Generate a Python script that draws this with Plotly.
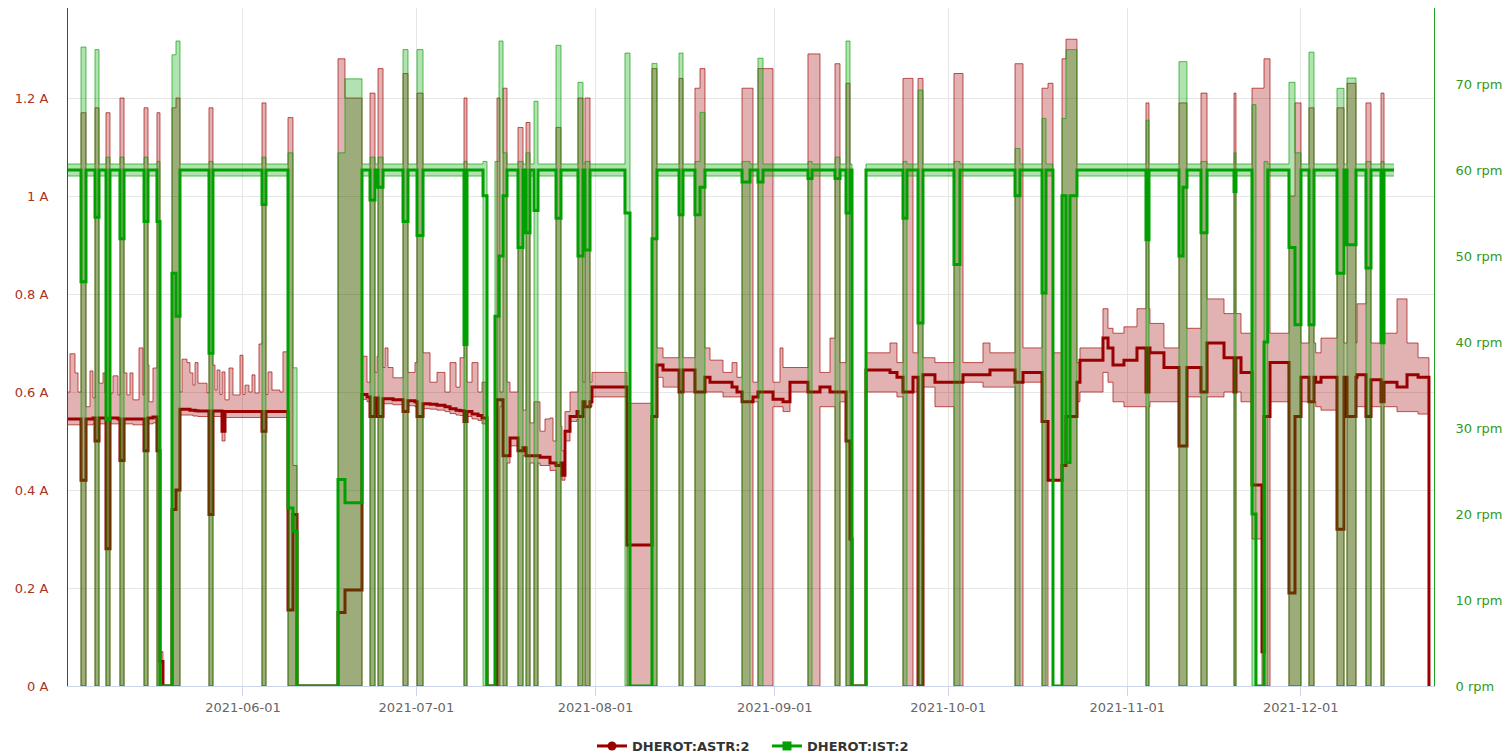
import pandas as pd
import plotly.graph_objects as go

START = pd.Timestamp("2021-05-01")  # day offsets below are days since this date

# ---------------- DHEROT:IST:2 (rpm) ----------------
ist_run_start = [0.73, 20.10, 51.59, 74.60, 102.63, 138.79, 172.70, 208.30]
ist_run_end = [16.12, 38.79, 72.53, 97.96, 136.37, 171.14, 205.57, 230.14]
ist_run_lo, ist_run_mid, ist_run_hi = 59.3, 60.0, 60.7
ist_first, ist_last = 0.73, 230.14

ist_ev_start = [2.98, 5.40, 7.30, 9.72, 13.88, 16.12, 18.72, 19.41, 25.12, 34.29,
                38.79, 39.65, 47.44, 48.65, 52.98, 54.36, 58.69, 61.11, 69.24, 72.53,
                74.60, 75.30, 75.99, 78.58, 79.97, 81.35, 85.16, 88.96, 90.17, 97.09,
                101.76, 106.44, 109.20, 110.07, 117.34, 120.10, 128.75, 133.43, 135.33, 145.19,
                147.79, 154.01, 164.57, 169.24, 172.70, 173.39, 174.08, 187.23, 192.94, 193.63,
                196.75, 202.46, 205.57, 207.65, 211.97, 213.01, 215.43, 220.28, 222.01, 225.29,
                227.89]
ist_ev_end = [3.84, 6.09, 7.99, 10.42, 14.57, 16.64, 19.41, 20.10, 25.81, 34.98,
              39.65, 40.35, 48.65, 51.59, 53.84, 55.23, 59.55, 62.15, 69.76, 73.22,
              75.30, 75.99, 76.68, 79.45, 80.66, 82.04, 86.02, 89.83, 91.04, 97.96,
              102.63, 107.13, 110.07, 110.93, 118.72, 120.97, 129.45, 134.29, 136.02, 145.88,
              148.65, 155.05, 165.43, 169.93, 173.39, 174.08, 175.29, 187.75, 193.63, 194.32,
              197.79, 202.80, 206.26, 208.30, 213.01, 214.05, 216.30, 221.49, 223.56, 226.16,
              228.41]
ist_ev_hi = [74.3, 74.0, 61.5, 61.5, 61.5, 61.0, 73.4, 75.0, 61.0, 61.5,
             62.0, 37.0, 62.0, 70.6, 61.5, 61.5, 74.0, 74.0, 61.0, 61.0,
             61.0, 75.0, 62.0, 61.0, 62.0, 68.0, 74.5, 70.2, 61.0, 73.6,
             72.4, 73.6, 61.0, 66.7, 61.0, 73.0, 61.0, 61.5, 75.0, 61.0,
             69.3, 61.0, 62.5, 66.0, 66.0, 74.0, 74.0, 65.8, 72.6, 72.6,
             61.0, 62.0, 67.6, 61.0, 70.2, 62.0, 73.7, 69.5, 70.7, 61.0,
             61.0]
ist_ev_mid = [47.0, 54.5, 31.0, 52.0, 54.0, 54.0, 48.0, 43.0, 38.7, 56.0,
              20.7, 18.0, 24.0, 21.3, 56.5, 58.0, 54.0, 52.4, 39.7, 57.0,
              43.0, 50.0, 57.0, 51.0, 52.7, 55.3, 54.4, 50.0, 50.7, 55.0,
              52.0, 54.8, 54.8, 58.0, 58.6, 58.6, 59.0, 59.0, 55.0, 54.4,
              42.2, 49.0, 57.0, 45.7, 57.0, 26.0, 57.0, 51.9, 50.0, 58.0,
              52.7, 57.5, 20.0, 40.0, 51.0, 42.0, 42.0, 48.0, 51.3, 48.6,
              39.9]

# ---------------- DHEROT:ASTR:2 (A) ----------------
astr_day = [0.73, 1.07, 1.94, 2.46, 3.84, 4.53, 5.05, 6.09, 6.78, 7.13,
            8.51, 9.38, 10.24, 10.93, 11.45, 11.97, 13.01, 13.70, 14.22, 14.74,
            15.43, 16.12, 17.16, 20.10, 20.45, 21.31, 21.83, 22.35, 22.70, 23.22,
            24.78, 25.64, 26.16, 26.51, 27.02, 27.37, 27.89, 28.58, 29.27, 30.48,
            31.00, 31.35, 32.04, 32.56, 33.08, 33.77, 34.29, 35.33, 36.02, 37.40,
            37.92, 40.35, 51.59, 52.46, 53.84, 54.19, 55.23, 55.57, 56.09, 56.96,
            59.55, 60.76, 62.15, 63.36, 64.57, 65.95, 66.82, 67.86, 68.55, 69.76,
            70.62, 71.66, 72.35, 73.22, 74.95, 75.99, 77.20, 78.58, 79.27, 80.13,
            81.86, 82.39, 83.25, 84.12, 84.64, 85.33, 86.19, 86.71, 87.58, 88.79,
            89.83, 91.38, 97.44,
            101.76, 102.63, 103.67, 106.96, 110.59, 111.80, 114.05, 115.61, 116.47, 119.24,
            122.70, 123.91, 124.43, 125.64, 130.83, 132.56, 134.29, 136.37, 138.79, 142.94,
            144.15, 146.92, 148.65, 150.72, 155.57, 159.03, 160.24, 165.95, 175.29, 175.81,
            179.79, 180.66, 181.52, 183.42, 185.67, 187.92, 190.34, 193.98, 197.79, 200.73,
            203.67, 208.69, 212.32, 216.60, 217.51, 221.49, 223.74, 225.47, 228.41, 230.66,
            232.39, 234.30, 236.19]
astr_lo = [.533, .533, .533, .533, .533, .533, .535, .535, .535, .535,
           .535, .535, .535, .535, .535, .533, .533, .533, .535, .535,
           .537, .48, 0, .553, .553, .553, .553, .551, .551, .55,
           .55, .55, .55, .55, .55, .50, .548, .548, .548, .548,
           .548, .548, .548, .548, .548, .548, .548, .548, .548, .548,
           .548, 0, .585, .58, .578, .578, .576, .576, .576, .574,
           .572, .570, .566, .565, .563, .56, .556, .553, .552, .55,
           .545, .542, .535, 0, .57, .455, .49, .47, .47, .455,
           .455, .45, .45, .44, .44, .44, .42, .50, .54, .545,
           .57, .59, 0,
           .61, .63, .61, .60, .60, .60, .59, .59, .59, .58,
           .57, .57, .56, .60, .57, .57, .58, 0, .60, .60,
           .59, .60, .61, .57, .62, .61, .61, .62, .58, .60,
           .64, .62, .58, .57, .57, .58, .58, .59, .59, .60,
           .58, .58, .58, .57, .563, .57, .57, .57, .57, .56,
           .56, .555, 0]
astr_mid = [.545, .545, .545, .545, .545, .545, .547, .547, .547, .547,
            .547, .545, .545, .545, .545, .545, .545, .545, .547, .547,
            .549, .50, 0, .565, .565, .565, .563, .563, .562, .561,
            .561, .561, .561, .561, .561, .52, .56, .56, .56, .56,
            .56, .56, .56, .56, .56, .56, .56, .56, .56, .56,
            .56, 0, .595, .59, .588, .588, .586, .586, .586, .584,
            .582, .58, .576, .575, .573, .57, .566, .563, .562, .56,
            .555, .552, .547, 0, .584, .47, .506, .486, .486, .47,
            .47, .467, .467, .455, .455, .455, .43, .52, .55, .56,
            .58, .61, .288,
            .63, .655, .645, .645, .63, .62, .62, .61, .60, .59,
            .585, .585, .58, .62, .61, .60, .60, 0, .645, .64,
            .63, .63, .635, .62, .635, .635, .645, .64, .62, .665,
            .71, .69, .655, .665, .69, .68, .65, .65, .70, .67,
            .64, .66, .63, .62, .63, .63, .635, .625, .62, .61,
            .635, .63, 0]
astr_hi = [.60, .678, .639, .60, .57, .643, .588, .618, .639, .598,
           .633, .594, .639, .594, .639, .584, .69, .594, .655, .58,
           .649, .56, 0, .60, .667, .66, .639, .614, .66, .618,
           .598, .655, .604, .645, .595, .641, .584, .649, .594, .675,
           .595, .614, .60, .635, .598, .698, .595, .641, .604, .60,
           .682, 0, .673, .62, .64, .673, .65, .69, .65, .629,
           .64, .66, .68, .62, .64, .60, .66, .61, .67, .62,
           .66, .60, .62, 0, .60, .62, .60, .58, .563, .537,
           .58, .52, .545, .547, .50, .53, .48, .56, .60, .60,
           .62, .64, .577,
           .66, .69, .67, .67, .69, .665, .64, .66, .63, .62,
           .62, .69, .65, .65, .64, .71, .66, 0, .68, .70,
           .66, .68, .67, .66, .66, .70, .68, .69, .66, .69,
           .77, .73, .72, .733, .77, .74, .69, .73, .79, .76,
           .72, .72, .70, .68, .71, .70, .78, .70, .72, .79,
           .70, .67, 0]
astr_last = 236.40

astr_ev_start = [2.98, 5.40, 7.30, 9.72, 13.88, 16.12, 16.64, 18.72, 19.41, 25.12,
                 34.29, 38.79, 39.65, 47.44, 48.65, 52.98, 54.36, 58.69, 61.11, 69.24,
                 74.95, 75.99, 78.58, 79.97, 81.35, 85.16, 88.96, 90.17, 101.76, 106.44,
                 109.20, 110.07, 117.34, 120.10, 128.75, 133.43, 135.33, 136.02, 145.19, 147.79,
                 154.01, 164.57, 169.24, 170.28, 171.14, 172.70, 173.39, 187.23, 192.94, 196.75,
                 202.46, 205.57, 207.30, 207.65, 211.97, 213.01, 215.43, 220.28, 222.01, 225.29,
                 227.89]
astr_ev_end = [3.84, 6.09, 7.99, 10.42, 14.57, 16.64, 17.16, 19.41, 20.10, 25.81,
               34.98, 39.65, 40.35, 48.65, 51.59, 53.84, 55.23, 59.55, 62.15, 69.76,
               75.47, 76.68, 79.45, 80.66, 82.04, 86.02, 89.83, 91.04, 102.63, 107.13,
               110.07, 110.93, 119.24, 122.70, 130.83, 134.29, 136.02, 136.37, 146.92, 148.65,
               155.57, 165.95, 170.28, 171.14, 172.70, 173.39, 175.29, 187.75, 194.32, 197.79,
               202.80, 207.30, 207.65, 208.69, 213.01, 214.05, 216.30, 221.49, 223.56, 226.16,
               228.41]
astr_ev_lo = [0, 0, 0, 0, 0, 0, 0, 0, 0, 0,
              0, 0, 0, 0, 0, 0, 0, 0, 0, 0,
              0, 0, 0, 0, 0, 0, 0, 0, 0, 0,
              0, 0, 0, 0, 0, 0, 0, 0, 0, 0,
              0, 0, 0, .42, .42, 0, 0, 0, 0, 0,
              0, .30, 0, 0, 0, 0, 0, 0, 0, 0,
              0]
astr_ev_mid = [.42, .50, .28, .46, .48, .48, .05, .36, .40, .35,
               .52, .155, .35, .15, .196, .55, .55, .56, .55, .54,
               .584, .47, .48, .47, .47, .45, .55, .57, .55, .60,
               .60, .60, .58, .60, .60, .60, .50, .30, .60, 0.0,
               .62, .62, .54, .42, .42, .45, .55, .60, .49, .60,
               .60, .41, .07, .55, .19, .55, .58, .32, .55, .55,
               .58]
astr_ev_hi = [1.17, 1.18, 1.17, 1.20, 1.18, 1.17, .07, 1.18, 1.20, 1.18,
              1.19, 1.16, .45, 1.28, 1.20, 1.21, 1.26, 1.25, 1.21, 1.20,
              1.20, 1.22, 1.14, 1.15, .58, 1.14, 1.20, 1.20, 1.26, 1.24,
              1.22, 1.26, 1.22, 1.26, 1.29, 1.27, 1.23, .60, 1.24, 1.24,
              1.25, 1.27, 1.22, 1.23, .68, 1.28, 1.32, 1.19, 1.19, 1.21,
              1.21, 1.22, 1.22, 1.28, 1.00, 1.19, 1.18, 1.18, 1.23, 1.19,
              1.21]

assert len(astr_day) == len(astr_lo) == len(astr_mid) == len(astr_hi)
assert len(astr_ev_start) == len(astr_ev_end) == len(astr_ev_lo) == len(astr_ev_mid) == len(astr_ev_hi)
assert len(ist_ev_start) == len(ist_ev_end) == len(ist_ev_hi) == len(ist_ev_mid)


def in_event(t, starts, ends):
    for i, (s, e) in enumerate(zip(starts, ends)):
        if s <= t < e:
            return i
    return None


def build_ist():
    pts = sorted(set([ist_first, ist_last] + ist_run_start + ist_run_end + ist_ev_start + ist_ev_end))
    pts = [p for p in pts if ist_first <= p <= ist_last]
    lo, mid, hi = [], [], []
    for t in pts:
        i = in_event(t, ist_ev_start, ist_ev_end)
        if i is not None:
            v = (0.0, ist_ev_mid[i], ist_ev_hi[i])
        elif in_event(t, ist_run_start, ist_run_end) is not None:
            v = (ist_run_lo, ist_run_mid, ist_run_hi)
        else:
            v = (0.0, 0.0, 0.0)
        lo.append(v[0]); mid.append(v[1]); hi.append(v[2])
    lo[-1], mid[-1], hi[-1] = lo[-2], mid[-2], hi[-2]
    return pts, lo, mid, hi


def build_astr():
    pts = sorted(set(astr_day + astr_ev_start + astr_ev_end + [astr_last]))
    lo, mid, hi = [], [], []
    for t in pts:
        i = in_event(t, astr_ev_start, astr_ev_end)
        if i is not None:
            v = (astr_ev_lo[i], astr_ev_mid[i], astr_ev_hi[i])
        else:
            j = max(k for k, d in enumerate(astr_day) if d <= t)
            v = (astr_lo[j], astr_mid[j], astr_hi[j])
        lo.append(v[0]); mid.append(v[1]); hi.append(v[2])
    lo[-1], mid[-1], hi[-1] = lo[-2], mid[-2], hi[-2]
    return pts, lo, mid, hi


def to_dt(days):
    return [START + pd.to_timedelta(d, unit="D") for d in days]


RED = "#9a0000"
GREEN = "#00a000"
FONT = "DejaVu Sans"

a_t, a_lo, a_mid, a_hi = build_astr()
g_t, g_lo, g_mid, g_hi = build_ist()
a_x, g_x = to_dt(a_t), to_dt(g_t)

fig = go.Figure()
fig.add_trace(go.Scatter(x=a_x, y=a_lo, mode="lines", line=dict(shape="hv", color="rgba(160,0,0,0.65)", width=1),
                         showlegend=False, hoverinfo="skip", yaxis="y"))
fig.add_trace(go.Scatter(x=a_x, y=a_hi, mode="lines", line=dict(shape="hv", color="rgba(160,0,0,0.65)", width=1),
                         fill="tonexty", fillcolor="rgba(160,0,0,0.3)", showlegend=False, hoverinfo="skip", yaxis="y"))
fig.add_trace(go.Scatter(x=a_x, y=a_mid, mode="lines", line=dict(shape="hv", color=RED, width=3),
                         showlegend=False, yaxis="y"))
fig.add_trace(go.Scatter(x=g_x, y=g_lo, mode="lines", line=dict(shape="hv", color="rgba(0,160,0,0.65)", width=1),
                         showlegend=False, hoverinfo="skip", yaxis="y2"))
fig.add_trace(go.Scatter(x=g_x, y=g_hi, mode="lines", line=dict(shape="hv", color="rgba(0,160,0,0.65)", width=1),
                         fill="tonexty", fillcolor="rgba(0,160,0,0.3)", showlegend=False, hoverinfo="skip", yaxis="y2"))
fig.add_trace(go.Scatter(x=g_x, y=g_mid, mode="lines", line=dict(shape="hv", color=GREEN, width=3),
                         showlegend=False, yaxis="y2"))
# legend entries
fig.add_trace(go.Scatter(x=[None], y=[None], mode="lines+markers", name="DHEROT:ASTR:2",
                         line=dict(color=RED, width=3), marker=dict(symbol="circle", size=9, color=RED)))
fig.add_trace(go.Scatter(x=[None], y=[None], mode="lines+markers", name="DHEROT:IST:2", yaxis="y2",
                         line=dict(color=GREEN, width=3), marker=dict(symbol="square", size=9, color=GREEN)))

x0 = START + pd.to_timedelta(0.727, unit="D")
x1 = START + pd.to_timedelta(237.06, unit="D")

fig.update_layout(
    width=1504, height=754,
    margin=dict(l=68, r=70, t=8, b=68, autoexpand=False),
    paper_bgcolor="white", plot_bgcolor="white",
    font=dict(family=FONT, size=13, color="#666666"),
    xaxis=dict(range=[x0, x1], type="date", tick0="2021-06-01", dtick="M1", tickformat="%Y-%m-%d",
               showgrid=True, gridcolor="#e6e6e6", gridwidth=1, automargin=False,
               showline=True, linecolor="#ccd6eb", linewidth=1,
               ticks="outside", ticklen=9, tickcolor="#ccd6eb",
               tickfont=dict(family=FONT, size=13, color="#666666"), zeroline=False),
    yaxis=dict(range=[0, 1.3837], dtick=0.2, ticksuffix=" A", showgrid=True, gridcolor="#e6e6e6",
               showline=True, linecolor="#a02020", linewidth=1, zeroline=False, automargin=False,
               ticklabelstandoff=16,
               tickfont=dict(family=FONT, size=13, color="#a8321e")),
    yaxis2=dict(range=[0, 78.84], dtick=10, ticksuffix=" rpm", overlaying="y", side="right",
                showgrid=False, showline=True, linecolor="#20a020", linewidth=1, zeroline=False,
                automargin=False, ticklabelstandoff=18,
                tickfont=dict(family=FONT, size=13, color="#2e9a1e")),
    legend=dict(orientation="h", x=0.5117, xanchor="center", y=-0.0885, yanchor="middle",
                traceorder="normal", entrywidth=130, entrywidthmode="pixels",
                font=dict(family=FONT, size=13, color="#333333", weight="bold"),
                itemwidth=30, bgcolor="rgba(0,0,0,0)"),
    showlegend=True,
)

fig.write_html("out.html", config={"displayModeBar": False},
               post_script="document.body.style.margin='0';")
